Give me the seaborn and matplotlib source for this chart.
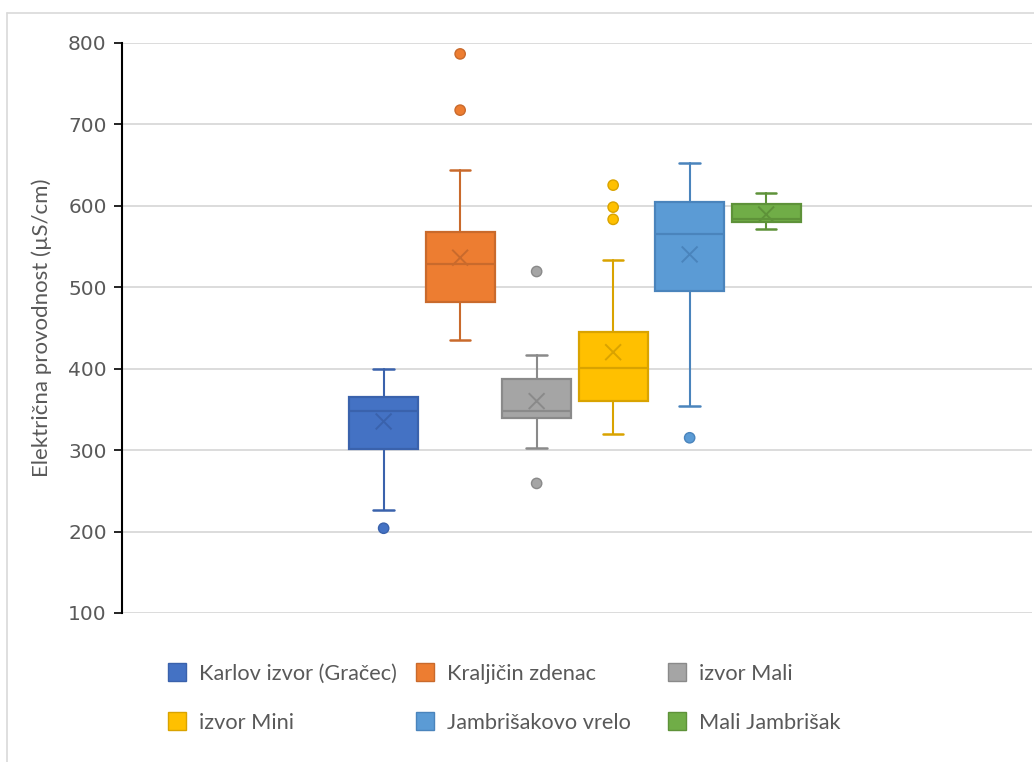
import numpy as np
import pandas as pd
import matplotlib
matplotlib.use("Agg")
import matplotlib.pyplot as plt
from matplotlib.patches import Patch
from matplotlib.lines import Line2D
import seaborn as sns

# ---- data ----
series = ["Karlov izvor (Gračec)", "Kraljičin zdenac", "izvor Mali",
          "izvor Mini", "Jambrišakovo vrelo", "Mali Jambrišak"]
whisker_low = [226, 435, 303, 320, 354, 571]
q1 = [301, 482, 339, 360, 495, 580]
median = [348, 528, 348, 401, 565, 584]
q3 = [365, 568, 387, 445, 604, 602]
whisker_high = [400, 643, 416, 533, 652, 615]
mean = [335, 536, 360, 420, 540, 589]
outliers = [[204], [786, 717], [519, 259], [625, 598, 583], [315], []]
yticks = [100, 200, 300, 400, 500, 600, 700, 800]
ylabel = "Električna provodnost (µS/cm)"

fill_colors = ["#4472C4", "#ED7D31", "#A5A5A5", "#FFC000", "#5B9BD5", "#70AD47"]
edge_colors = ["#3A62AC", "#C96A2C", "#8A8A8A", "#D9A300", "#4A84BC", "#5E9239"]

sns.set_theme(style="white")
plt.rcParams["font.family"] = ["DejaVu Sans"]

W, H = 1034, 762
fig = plt.figure(figsize=(W / 100, H / 100), dpi=100)
ax = fig.add_axes([122 / W, 1 - 613 / H, 910 / W, 570.5 / H])

positions = np.arange(len(series))
stats = []
for i, name in enumerate(series):
    stats.append(dict(label=name, whislo=whisker_low[i], q1=q1[i], med=median[i],
                      q3=q3[i], whishi=whisker_high[i], mean=mean[i], fliers=[]))

art = ax.bxp(stats, positions=positions, widths=0.9, capwidths=0.27,
             patch_artist=True, showmeans=False, showfliers=False)
for i in range(len(series)):
    b = art["boxes"][i]
    b.set_facecolor(fill_colors[i])
    b.set_edgecolor(edge_colors[i])
    b.set_linewidth(1.6)
    b.set_zorder(3)
    art["medians"][i].set_color(edge_colors[i])
    art["medians"][i].set_linewidth(1.6)
    art["medians"][i].set_zorder(4)
    for k in (2 * i, 2 * i + 1):
        art["whiskers"][k].set_color(edge_colors[i])
        art["whiskers"][k].set_linewidth(1.5)
        art["caps"][k].set_color(edge_colors[i])
        art["caps"][k].set_linewidth(1.8)

# means (X marks)
df_mean = pd.DataFrame({"pos": positions, "value": mean, "series": series})
sns.scatterplot(data=df_mean, x="pos", y="value", hue="series",
                palette=dict(zip(series, edge_colors)), marker="x", s=130,
                linewidth=1.4, legend=False, ax=ax, zorder=5)

# outliers
rows = []
for i, vals in enumerate(outliers):
    for v in vals:
        rows.append((positions[i], v, series[i]))
df_out = pd.DataFrame(rows, columns=["pos", "value", "series"])
sns.scatterplot(data=df_out, x="pos", y="value", hue="series",
                palette=dict(zip(series, fill_colors)), s=55, legend=False,
                ax=ax, zorder=5, linewidth=1.0)
edge_map = dict(zip(series, edge_colors))
ax.collections[-1].set_edgecolor([edge_map[s] for s in df_out["series"]])

# axes styling
ax.set_ylim(100, 800)
ax.set_yticks(yticks)
ax.set_xlim(-3.42, 8.475)
ax.set_xticks([])
ax.set_xlabel("")
ax.grid(axis="y", color="#D9D9D9", linewidth=1.3)
ax.grid(axis="x", visible=False)
ax.set_axisbelow(True)
for s in ["top", "right", "bottom"]:
    ax.spines[s].set_visible(False)
ax.spines["left"].set_color("black")
ax.spines["left"].set_linewidth(1.5)
ax.tick_params(axis="y", direction="out", length=6, width=1.2, color="black",
               labelsize=14.5, labelcolor="#595959", pad=5, left=True)
ax.set_ylabel(ylabel, fontsize=16, color="#595959", family=["Lato", "DejaVu Sans"])
ax.yaxis.set_label_coords((52 - 122) / 910, 0.5)

# legend: three columns, two rows each
order = [[0, 3], [1, 4], [2, 5]]
col_x = [168, 416, 668]
for c, idx in enumerate(order):
    handles = [Patch(facecolor=fill_colors[i], edgecolor=edge_colors[i], linewidth=1.0)
               for i in idx]
    labels = [series[i] for i in idx]
    leg = fig.legend(handles, labels, loc="upper left",
                     bbox_to_anchor=(col_x[c] / W, 1 - 663.5 / H),
                     bbox_transform=fig.transFigure, frameon=False,
                     borderpad=0, borderaxespad=0, handlelength=0.84,
                     handleheight=0.84, handletextpad=0.56, labelspacing=1.32,
                     prop={"family": ["Lato", "DejaVu Sans"], "size": 15.7})
    for t in leg.get_texts():
        t.set_color("#595959")

# chart-area border (left and top edges visible in the reference)
fig.add_artist(Line2D([7 / W, 7 / W], [0, 1 - 13 / H], transform=fig.transFigure,
                      color="#D9D9D9", linewidth=1.2))
fig.add_artist(Line2D([7 / W, 1], [1 - 13 / H, 1 - 13 / H], transform=fig.transFigure,
                      color="#D9D9D9", linewidth=1.2))

fig.savefig("out.png", dpi=100, facecolor="white")
